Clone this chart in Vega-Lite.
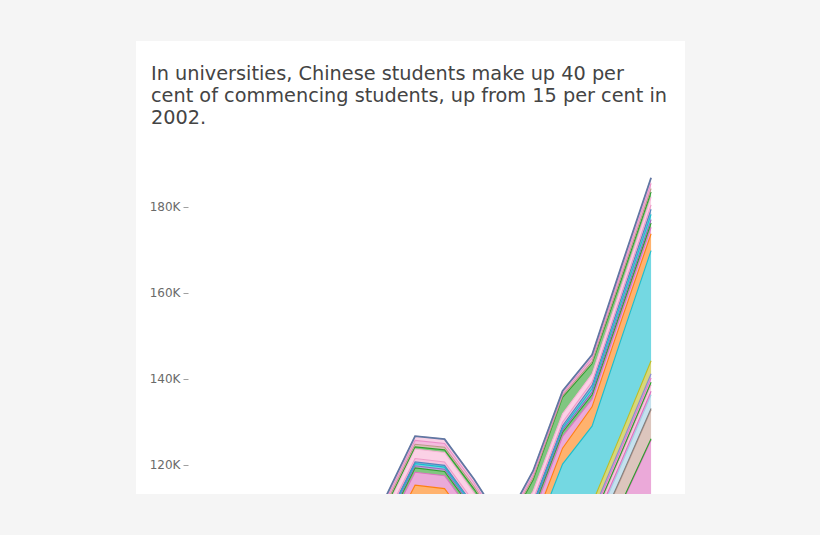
{
  "$schema": "https://vega.github.io/schema/vega-lite/v6.json",
  "width": 549,
  "height": 453,
  "autosize": "none",
  "padding": {"left": 136, "top": 41, "right": 135, "bottom": 41},
  "background": "#f5f5f5",
  "config": {"view": {"fill": "white", "stroke": null}, "font": "DejaVu Sans"},
  "title": {
    "text": ["In universities, Chinese students make up 40 per", "cent of commencing students, up from 15 per cent in", "2002."],
    "anchor": "start",
    "frame": "group",
    "orient": "top",
    "offset": -87,
    "dx": 15,
    "font": "DejaVu Sans",
    "fontSize": 19.3,
    "fontWeight": "normal",
    "color": "#444444",
    "lineHeight": 22
  },
  "data": {"values": [
    {"year":2002,"country":"Other","rank":1,"students":57700},{"year":2002,"country":"Thailand","rank":2,"students":300},{"year":2002,"country":"Malaysia","rank":3,"students":4200},{"year":2002,"country":"Indonesia","rank":4,"students":300},{"year":2002,"country":"Vietnam","rank":5,"students":2000},{"year":2002,"country":"Korea","rank":6,"students":700},{"year":2002,"country":"Hong Kong","rank":7,"students":1200},{"year":2002,"country":"Singapore","rank":8,"students":500},{"year":2002,"country":"Japan","rank":9,"students":900},{"year":2002,"country":"Taiwan","rank":10,"students":700},{"year":2002,"country":"USA","rank":11,"students":1800},{"year":2002,"country":"China","rank":12,"students":3000},{"year":2002,"country":"India","rank":13,"students":2200},{"year":2002,"country":"Nepal","rank":14,"students":2800},{"year":2002,"country":"Pakistan","rank":15,"students":900},{"year":2002,"country":"Brazil","rank":16,"students":500},{"year":2002,"country":"Saudi Arabia","rank":17,"students":400},{"year":2002,"country":"Sri Lanka","rank":18,"students":400},{"year":2002,"country":"Bangladesh","rank":19,"students":700},{"year":2002,"country":"Colombia","rank":20,"students":2000},{"year":2002,"country":"Philippines","rank":21,"students":500},{"year":2002,"country":"Iran","rank":22,"students":600},{"year":2002,"country":"Canada","rank":23,"students":800},{"year":2002,"country":"Germany","rank":24,"students":900},
    {"year":2003,"country":"Other","rank":1,"students":63000},{"year":2003,"country":"Thailand","rank":2,"students":300},{"year":2003,"country":"Malaysia","rank":3,"students":4200},{"year":2003,"country":"Indonesia","rank":4,"students":300},{"year":2003,"country":"Vietnam","rank":5,"students":2000},{"year":2003,"country":"Korea","rank":6,"students":700},{"year":2003,"country":"Hong Kong","rank":7,"students":1200},{"year":2003,"country":"Singapore","rank":8,"students":500},{"year":2003,"country":"Japan","rank":9,"students":900},{"year":2003,"country":"Taiwan","rank":10,"students":700},{"year":2003,"country":"USA","rank":11,"students":1800},{"year":2003,"country":"China","rank":12,"students":3500},{"year":2003,"country":"India","rank":13,"students":2400},{"year":2003,"country":"Nepal","rank":14,"students":2800},{"year":2003,"country":"Pakistan","rank":15,"students":900},{"year":2003,"country":"Brazil","rank":16,"students":500},{"year":2003,"country":"Saudi Arabia","rank":17,"students":400},{"year":2003,"country":"Sri Lanka","rank":18,"students":400},{"year":2003,"country":"Bangladesh","rank":19,"students":700},{"year":2003,"country":"Colombia","rank":20,"students":2000},{"year":2003,"country":"Philippines","rank":21,"students":500},{"year":2003,"country":"Iran","rank":22,"students":600},{"year":2003,"country":"Canada","rank":23,"students":800},{"year":2003,"country":"Germany","rank":24,"students":900},
    {"year":2004,"country":"Other","rank":1,"students":66400},{"year":2004,"country":"Thailand","rank":2,"students":300},{"year":2004,"country":"Malaysia","rank":3,"students":4200},{"year":2004,"country":"Indonesia","rank":4,"students":300},{"year":2004,"country":"Vietnam","rank":5,"students":2000},{"year":2004,"country":"Korea","rank":6,"students":700},{"year":2004,"country":"Hong Kong","rank":7,"students":1200},{"year":2004,"country":"Singapore","rank":8,"students":500},{"year":2004,"country":"Japan","rank":9,"students":900},{"year":2004,"country":"Taiwan","rank":10,"students":700},{"year":2004,"country":"USA","rank":11,"students":1800},{"year":2004,"country":"China","rank":12,"students":4000},{"year":2004,"country":"India","rank":13,"students":2500},{"year":2004,"country":"Nepal","rank":14,"students":2800},{"year":2004,"country":"Pakistan","rank":15,"students":900},{"year":2004,"country":"Brazil","rank":16,"students":500},{"year":2004,"country":"Saudi Arabia","rank":17,"students":400},{"year":2004,"country":"Sri Lanka","rank":18,"students":400},{"year":2004,"country":"Bangladesh","rank":19,"students":700},{"year":2004,"country":"Colombia","rank":20,"students":2000},{"year":2004,"country":"Philippines","rank":21,"students":500},{"year":2004,"country":"Iran","rank":22,"students":600},{"year":2004,"country":"Canada","rank":23,"students":800},{"year":2004,"country":"Germany","rank":24,"students":900},
    {"year":2005,"country":"Other","rank":1,"students":68800},{"year":2005,"country":"Thailand","rank":2,"students":300},{"year":2005,"country":"Malaysia","rank":3,"students":4200},{"year":2005,"country":"Indonesia","rank":4,"students":300},{"year":2005,"country":"Vietnam","rank":5,"students":2000},{"year":2005,"country":"Korea","rank":6,"students":700},{"year":2005,"country":"Hong Kong","rank":7,"students":1200},{"year":2005,"country":"Singapore","rank":8,"students":500},{"year":2005,"country":"Japan","rank":9,"students":900},{"year":2005,"country":"Taiwan","rank":10,"students":700},{"year":2005,"country":"USA","rank":11,"students":1800},{"year":2005,"country":"China","rank":12,"students":4500},{"year":2005,"country":"India","rank":13,"students":2600},{"year":2005,"country":"Nepal","rank":14,"students":2800},{"year":2005,"country":"Pakistan","rank":15,"students":900},{"year":2005,"country":"Brazil","rank":16,"students":500},{"year":2005,"country":"Saudi Arabia","rank":17,"students":400},{"year":2005,"country":"Sri Lanka","rank":18,"students":400},{"year":2005,"country":"Bangladesh","rank":19,"students":700},{"year":2005,"country":"Colombia","rank":20,"students":2000},{"year":2005,"country":"Philippines","rank":21,"students":500},{"year":2005,"country":"Iran","rank":22,"students":600},{"year":2005,"country":"Canada","rank":23,"students":800},{"year":2005,"country":"Germany","rank":24,"students":900},
    {"year":2006,"country":"Other","rank":1,"students":72100},{"year":2006,"country":"Thailand","rank":2,"students":300},{"year":2006,"country":"Malaysia","rank":3,"students":4200},{"year":2006,"country":"Indonesia","rank":4,"students":300},{"year":2006,"country":"Vietnam","rank":5,"students":2000},{"year":2006,"country":"Korea","rank":6,"students":700},{"year":2006,"country":"Hong Kong","rank":7,"students":1200},{"year":2006,"country":"Singapore","rank":8,"students":500},{"year":2006,"country":"Japan","rank":9,"students":900},{"year":2006,"country":"Taiwan","rank":10,"students":700},{"year":2006,"country":"USA","rank":11,"students":1800},{"year":2006,"country":"China","rank":12,"students":5000},{"year":2006,"country":"India","rank":13,"students":2800},{"year":2006,"country":"Nepal","rank":14,"students":2800},{"year":2006,"country":"Pakistan","rank":15,"students":900},{"year":2006,"country":"Brazil","rank":16,"students":500},{"year":2006,"country":"Saudi Arabia","rank":17,"students":400},{"year":2006,"country":"Sri Lanka","rank":18,"students":400},{"year":2006,"country":"Bangladesh","rank":19,"students":700},{"year":2006,"country":"Colombia","rank":20,"students":2000},{"year":2006,"country":"Philippines","rank":21,"students":500},{"year":2006,"country":"Iran","rank":22,"students":600},{"year":2006,"country":"Canada","rank":23,"students":800},{"year":2006,"country":"Germany","rank":24,"students":900},
    {"year":2007,"country":"Other","rank":1,"students":75900},{"year":2007,"country":"Thailand","rank":2,"students":300},{"year":2007,"country":"Malaysia","rank":3,"students":4200},{"year":2007,"country":"Indonesia","rank":4,"students":300},{"year":2007,"country":"Vietnam","rank":5,"students":2000},{"year":2007,"country":"Korea","rank":6,"students":700},{"year":2007,"country":"Hong Kong","rank":7,"students":1200},{"year":2007,"country":"Singapore","rank":8,"students":500},{"year":2007,"country":"Japan","rank":9,"students":900},{"year":2007,"country":"Taiwan","rank":10,"students":700},{"year":2007,"country":"USA","rank":11,"students":1800},{"year":2007,"country":"China","rank":12,"students":6000},{"year":2007,"country":"India","rank":13,"students":3000},{"year":2007,"country":"Nepal","rank":14,"students":2800},{"year":2007,"country":"Pakistan","rank":15,"students":900},{"year":2007,"country":"Brazil","rank":16,"students":500},{"year":2007,"country":"Saudi Arabia","rank":17,"students":400},{"year":2007,"country":"Sri Lanka","rank":18,"students":400},{"year":2007,"country":"Bangladesh","rank":19,"students":700},{"year":2007,"country":"Colombia","rank":20,"students":2000},{"year":2007,"country":"Philippines","rank":21,"students":500},{"year":2007,"country":"Iran","rank":22,"students":600},{"year":2007,"country":"Canada","rank":23,"students":800},{"year":2007,"country":"Germany","rank":24,"students":900},
    {"year":2008,"country":"Other","rank":1,"students":79200},{"year":2008,"country":"Thailand","rank":2,"students":300},{"year":2008,"country":"Malaysia","rank":3,"students":4200},{"year":2008,"country":"Indonesia","rank":4,"students":300},{"year":2008,"country":"Vietnam","rank":5,"students":2000},{"year":2008,"country":"Korea","rank":6,"students":700},{"year":2008,"country":"Hong Kong","rank":7,"students":1200},{"year":2008,"country":"Singapore","rank":8,"students":500},{"year":2008,"country":"Japan","rank":9,"students":900},{"year":2008,"country":"Taiwan","rank":10,"students":700},{"year":2008,"country":"USA","rank":11,"students":1800},{"year":2008,"country":"China","rank":12,"students":7000},{"year":2008,"country":"India","rank":13,"students":3200},{"year":2008,"country":"Nepal","rank":14,"students":2800},{"year":2008,"country":"Pakistan","rank":15,"students":900},{"year":2008,"country":"Brazil","rank":16,"students":500},{"year":2008,"country":"Saudi Arabia","rank":17,"students":400},{"year":2008,"country":"Sri Lanka","rank":18,"students":400},{"year":2008,"country":"Bangladesh","rank":19,"students":700},{"year":2008,"country":"Colombia","rank":20,"students":2000},{"year":2008,"country":"Philippines","rank":21,"students":500},{"year":2008,"country":"Iran","rank":22,"students":600},{"year":2008,"country":"Canada","rank":23,"students":800},{"year":2008,"country":"Germany","rank":24,"students":900},
    {"year":2009,"country":"Other","rank":1,"students":90100},{"year":2009,"country":"Thailand","rank":2,"students":300},{"year":2009,"country":"Malaysia","rank":3,"students":4600},{"year":2009,"country":"Indonesia","rank":4,"students":300},{"year":2009,"country":"Vietnam","rank":5,"students":2300},{"year":2009,"country":"Korea","rank":6,"students":700},{"year":2009,"country":"Hong Kong","rank":7,"students":1300},{"year":2009,"country":"Singapore","rank":8,"students":500},{"year":2009,"country":"Japan","rank":9,"students":900},{"year":2009,"country":"Taiwan","rank":10,"students":800},{"year":2009,"country":"USA","rank":11,"students":2000},{"year":2009,"country":"China","rank":12,"students":8000},{"year":2009,"country":"India","rank":13,"students":3500},{"year":2009,"country":"Nepal","rank":14,"students":3000},{"year":2009,"country":"Pakistan","rank":15,"students":1000},{"year":2009,"country":"Brazil","rank":16,"students":500},{"year":2009,"country":"Saudi Arabia","rank":17,"students":500},{"year":2009,"country":"Sri Lanka","rank":18,"students":400},{"year":2009,"country":"Bangladesh","rank":19,"students":800},{"year":2009,"country":"Colombia","rank":20,"students":2200},{"year":2009,"country":"Philippines","rank":21,"students":500},{"year":2009,"country":"Iran","rank":22,"students":600},{"year":2009,"country":"Canada","rank":23,"students":900},{"year":2009,"country":"Germany","rank":24,"students":1000},
    {"year":2010,"country":"Other","rank":1,"students":88700},{"year":2010,"country":"Thailand","rank":2,"students":300},{"year":2010,"country":"Malaysia","rank":3,"students":4600},{"year":2010,"country":"Indonesia","rank":4,"students":300},{"year":2010,"country":"Vietnam","rank":5,"students":2300},{"year":2010,"country":"Korea","rank":6,"students":700},{"year":2010,"country":"Hong Kong","rank":7,"students":1300},{"year":2010,"country":"Singapore","rank":8,"students":500},{"year":2010,"country":"Japan","rank":9,"students":900},{"year":2010,"country":"Taiwan","rank":10,"students":800},{"year":2010,"country":"USA","rank":11,"students":2000},{"year":2010,"country":"China","rank":12,"students":8500},{"year":2010,"country":"India","rank":13,"students":3600},{"year":2010,"country":"Nepal","rank":14,"students":3000},{"year":2010,"country":"Pakistan","rank":15,"students":1000},{"year":2010,"country":"Brazil","rank":16,"students":500},{"year":2010,"country":"Saudi Arabia","rank":17,"students":500},{"year":2010,"country":"Sri Lanka","rank":18,"students":400},{"year":2010,"country":"Bangladesh","rank":19,"students":800},{"year":2010,"country":"Colombia","rank":20,"students":2200},{"year":2010,"country":"Philippines","rank":21,"students":600},{"year":2010,"country":"Iran","rank":22,"students":600},{"year":2010,"country":"Canada","rank":23,"students":900},{"year":2010,"country":"Germany","rank":24,"students":1000},
    {"year":2011,"country":"Other","rank":1,"students":79000},{"year":2011,"country":"Thailand","rank":2,"students":300},{"year":2011,"country":"Malaysia","rank":3,"students":4600},{"year":2011,"country":"Indonesia","rank":4,"students":300},{"year":2011,"country":"Vietnam","rank":5,"students":2300},{"year":2011,"country":"Korea","rank":6,"students":700},{"year":2011,"country":"Hong Kong","rank":7,"students":1300},{"year":2011,"country":"Singapore","rank":8,"students":500},{"year":2011,"country":"Japan","rank":9,"students":900},{"year":2011,"country":"Taiwan","rank":10,"students":800},{"year":2011,"country":"USA","rank":11,"students":2000},{"year":2011,"country":"China","rank":12,"students":9000},{"year":2011,"country":"India","rank":13,"students":3500},{"year":2011,"country":"Nepal","rank":14,"students":2900},{"year":2011,"country":"Pakistan","rank":15,"students":1000},{"year":2011,"country":"Brazil","rank":16,"students":500},{"year":2011,"country":"Saudi Arabia","rank":17,"students":500},{"year":2011,"country":"Sri Lanka","rank":18,"students":400},{"year":2011,"country":"Bangladesh","rank":19,"students":800},{"year":2011,"country":"Colombia","rank":20,"students":2200},{"year":2011,"country":"Philippines","rank":21,"students":900},{"year":2011,"country":"Iran","rank":22,"students":600},{"year":2011,"country":"Canada","rank":23,"students":800},{"year":2011,"country":"Germany","rank":24,"students":900},
    {"year":2012,"country":"Other","rank":1,"students":67500},{"year":2012,"country":"Thailand","rank":2,"students":300},{"year":2012,"country":"Malaysia","rank":3,"students":4600},{"year":2012,"country":"Indonesia","rank":4,"students":300},{"year":2012,"country":"Vietnam","rank":5,"students":2300},{"year":2012,"country":"Korea","rank":6,"students":700},{"year":2012,"country":"Hong Kong","rank":7,"students":1300},{"year":2012,"country":"Singapore","rank":8,"students":500},{"year":2012,"country":"Japan","rank":9,"students":900},{"year":2012,"country":"Taiwan","rank":10,"students":800},{"year":2012,"country":"USA","rank":11,"students":2000},{"year":2012,"country":"China","rank":12,"students":10000},{"year":2012,"country":"India","rank":13,"students":3300},{"year":2012,"country":"Nepal","rank":14,"students":2700},{"year":2012,"country":"Pakistan","rank":15,"students":1000},{"year":2012,"country":"Brazil","rank":16,"students":500},{"year":2012,"country":"Saudi Arabia","rank":17,"students":500},{"year":2012,"country":"Sri Lanka","rank":18,"students":400},{"year":2012,"country":"Bangladesh","rank":19,"students":800},{"year":2012,"country":"Colombia","rank":20,"students":2100},{"year":2012,"country":"Philippines","rank":21,"students":1500},{"year":2012,"country":"Iran","rank":22,"students":500},{"year":2012,"country":"Canada","rank":23,"students":700},{"year":2012,"country":"Germany","rank":24,"students":800},
    {"year":2013,"country":"Other","rank":1,"students":76900},{"year":2013,"country":"Thailand","rank":2,"students":300},{"year":2013,"country":"Malaysia","rank":3,"students":4600},{"year":2013,"country":"Indonesia","rank":4,"students":300},{"year":2013,"country":"Vietnam","rank":5,"students":2300},{"year":2013,"country":"Korea","rank":6,"students":700},{"year":2013,"country":"Hong Kong","rank":7,"students":1300},{"year":2013,"country":"Singapore","rank":8,"students":500},{"year":2013,"country":"Japan","rank":9,"students":900},{"year":2013,"country":"Taiwan","rank":10,"students":800},{"year":2013,"country":"USA","rank":11,"students":2000},{"year":2013,"country":"China","rank":12,"students":12000},{"year":2013,"country":"India","rank":13,"students":3400},{"year":2013,"country":"Nepal","rank":14,"students":2600},{"year":2013,"country":"Pakistan","rank":15,"students":1000},{"year":2013,"country":"Brazil","rank":16,"students":500},{"year":2013,"country":"Saudi Arabia","rank":17,"students":500},{"year":2013,"country":"Sri Lanka","rank":18,"students":500},{"year":2013,"country":"Bangladesh","rank":19,"students":800},{"year":2013,"country":"Colombia","rank":20,"students":2000},{"year":2013,"country":"Philippines","rank":21,"students":2600},{"year":2013,"country":"Iran","rank":22,"students":500},{"year":2013,"country":"Canada","rank":23,"students":700},{"year":2013,"country":"Germany","rank":24,"students":900},
    {"year":2014,"country":"Other","rank":1,"students":91500},{"year":2014,"country":"Thailand","rank":2,"students":300},{"year":2014,"country":"Malaysia","rank":3,"students":4600},{"year":2014,"country":"Indonesia","rank":4,"students":300},{"year":2014,"country":"Vietnam","rank":5,"students":2300},{"year":2014,"country":"Korea","rank":6,"students":700},{"year":2014,"country":"Hong Kong","rank":7,"students":1300},{"year":2014,"country":"Singapore","rank":8,"students":500},{"year":2014,"country":"Japan","rank":9,"students":900},{"year":2014,"country":"Taiwan","rank":10,"students":800},{"year":2014,"country":"USA","rank":11,"students":2000},{"year":2014,"country":"China","rank":12,"students":15000},{"year":2014,"country":"India","rank":13,"students":3700},{"year":2014,"country":"Nepal","rank":14,"students":2700},{"year":2014,"country":"Pakistan","rank":15,"students":1000},{"year":2014,"country":"Brazil","rank":16,"students":500},{"year":2014,"country":"Saudi Arabia","rank":17,"students":500},{"year":2014,"country":"Sri Lanka","rank":18,"students":500},{"year":2014,"country":"Bangladesh","rank":19,"students":800},{"year":2014,"country":"Colombia","rank":20,"students":2000},{"year":2014,"country":"Philippines","rank":21,"students":3800},{"year":2014,"country":"Iran","rank":22,"students":400},{"year":2014,"country":"Canada","rank":23,"students":500},{"year":2014,"country":"Germany","rank":24,"students":600},
    {"year":2015,"country":"Other","rank":1,"students":96500},{"year":2015,"country":"Thailand","rank":2,"students":300},{"year":2015,"country":"Malaysia","rank":3,"students":5000},{"year":2015,"country":"Indonesia","rank":4,"students":300},{"year":2015,"country":"Vietnam","rank":5,"students":2500},{"year":2015,"country":"Korea","rank":6,"students":700},{"year":2015,"country":"Hong Kong","rank":7,"students":1300},{"year":2015,"country":"Singapore","rank":8,"students":500},{"year":2015,"country":"Japan","rank":9,"students":900},{"year":2015,"country":"Taiwan","rank":10,"students":800},{"year":2015,"country":"USA","rank":11,"students":2200},{"year":2015,"country":"China","rank":12,"students":18000},{"year":2015,"country":"India","rank":13,"students":4500},{"year":2015,"country":"Nepal","rank":14,"students":1800},{"year":2015,"country":"Pakistan","rank":15,"students":1000},{"year":2015,"country":"Brazil","rank":16,"students":600},{"year":2015,"country":"Saudi Arabia","rank":17,"students":800},{"year":2015,"country":"Sri Lanka","rank":18,"students":800},{"year":2015,"country":"Bangladesh","rank":19,"students":800},{"year":2015,"country":"Colombia","rank":20,"students":1800},{"year":2015,"country":"Philippines","rank":21,"students":2400},{"year":2015,"country":"Iran","rank":22,"students":500},{"year":2015,"country":"Canada","rank":23,"students":800},{"year":2015,"country":"Germany","rank":24,"students":800},
    {"year":2016,"country":"Other","rank":1,"students":111000},{"year":2016,"country":"Thailand","rank":2,"students":300},{"year":2016,"country":"Malaysia","rank":3,"students":5800},{"year":2016,"country":"Indonesia","rank":4,"students":300},{"year":2016,"country":"Vietnam","rank":5,"students":2800},{"year":2016,"country":"Korea","rank":6,"students":800},{"year":2016,"country":"Hong Kong","rank":7,"students":1400},{"year":2016,"country":"Singapore","rank":8,"students":600},{"year":2016,"country":"Japan","rank":9,"students":1000},{"year":2016,"country":"Taiwan","rank":10,"students":900},{"year":2016,"country":"USA","rank":11,"students":2600},{"year":2016,"country":"China","rank":12,"students":22000},{"year":2016,"country":"India","rank":13,"students":4200},{"year":2016,"country":"Nepal","rank":14,"students":1600},{"year":2016,"country":"Pakistan","rank":15,"students":1000},{"year":2016,"country":"Brazil","rank":16,"students":700},{"year":2016,"country":"Saudi Arabia","rank":17,"students":1000},{"year":2016,"country":"Sri Lanka","rank":18,"students":1000},{"year":2016,"country":"Bangladesh","rank":19,"students":900},{"year":2016,"country":"Colombia","rank":20,"students":1800},{"year":2016,"country":"Philippines","rank":21,"students":1600},{"year":2016,"country":"Iran","rank":22,"students":700},{"year":2016,"country":"Canada","rank":23,"students":1100},{"year":2016,"country":"Germany","rank":24,"students":1200},
    {"year":2017,"country":"Other","rank":1,"students":125800},{"year":2017,"country":"Thailand","rank":2,"students":300},{"year":2017,"country":"Malaysia","rank":3,"students":6700},{"year":2017,"country":"Indonesia","rank":4,"students":300},{"year":2017,"country":"Vietnam","rank":5,"students":3200},{"year":2017,"country":"Korea","rank":6,"students":800},{"year":2017,"country":"Hong Kong","rank":7,"students":1500},{"year":2017,"country":"Singapore","rank":8,"students":600},{"year":2017,"country":"Japan","rank":9,"students":1000},{"year":2017,"country":"Taiwan","rank":10,"students":1000},{"year":2017,"country":"USA","rank":11,"students":3000},{"year":2017,"country":"China","rank":12,"students":25600},{"year":2017,"country":"India","rank":13,"students":3900},{"year":2017,"country":"Nepal","rank":14,"students":1500},{"year":2017,"country":"Pakistan","rank":15,"students":1000},{"year":2017,"country":"Brazil","rank":16,"students":800},{"year":2017,"country":"Saudi Arabia","rank":17,"students":1200},{"year":2017,"country":"Sri Lanka","rank":18,"students":1200},{"year":2017,"country":"Bangladesh","rank":19,"students":1000},{"year":2017,"country":"Colombia","rank":20,"students":1800},{"year":2017,"country":"Philippines","rank":21,"students":1200},{"year":2017,"country":"Iran","rank":22,"students":800},{"year":2017,"country":"Canada","rank":23,"students":1200},{"year":2017,"country":"Germany","rank":24,"students":1300}
  ]},
  "encoding": {
    "x": {"field": "year", "type": "quantitative", "scale": {"domain": [1999.54, 2018.15], "nice": false, "zero": false}, "axis": null}
  },
  "layer": [
    {
      "mark": {"type": "area", "clip": true, "interpolate": "linear", "fillOpacity": 0.6, "line": {"strokeWidth": 1.1}},
      "encoding": {
        "y": {"field": "students", "type": "quantitative", "stack": "zero",
          "scale": {"domain": [113250, 218480], "nice": false, "zero": false},
          "axis": {"values": [120000, 140000, 160000, 180000], "labelExpr": "datum.value / 1000 + 'K'", "offset": -52, "domain": false, "grid": false, "tickSize": 5, "tickColor": "#a0a0a0", "labelFont": "DejaVu Sans", "labelFontSize": 12, "labelColor": "#6a6a6a", "labelPadding": 3, "title": null}},
        "color": {"field": "country", "type": "nominal", "legend": null,
          "scale": {
            "domain": ["Other", "Thailand", "Malaysia", "Indonesia", "Vietnam", "Korea", "Hong Kong", "Singapore", "Japan", "Taiwan", "USA", "China", "India", "Nepal", "Pakistan", "Brazil", "Saudi Arabia", "Sri Lanka", "Bangladesh", "Colombia", "Philippines", "Iran", "Canada", "Germany"],
            "range": ["#de70c0", "#2ca02c", "#c59e91", "#7f7f7f", "#a0cde3", "#da70be", "#f2a8cd", "#2ca02c", "#e37dc5", "#8a8acb", "#bcbd22", "#17becf", "#ff7f0e", "#dc72c0", "#2ca02c", "#9467bd", "#17becf", "#4f86bd", "#ee9bc8", "#f8b2d5", "#2ca02c", "#be988a", "#eb8fc8", "#f3b1d4"]
          }},
        "order": {"field": "rank", "type": "quantitative", "sort": "ascending"}
      }
    },
    {
      "transform": [{"aggregate": [{"op": "sum", "field": "students", "as": "total"}], "groupby": ["year"]}],
      "mark": {"type": "line", "clip": true, "color": "#5f78a3", "strokeWidth": 1.8},
      "encoding": {
        "y": {"field": "total", "type": "quantitative"}
      }
    }
  ]
}
